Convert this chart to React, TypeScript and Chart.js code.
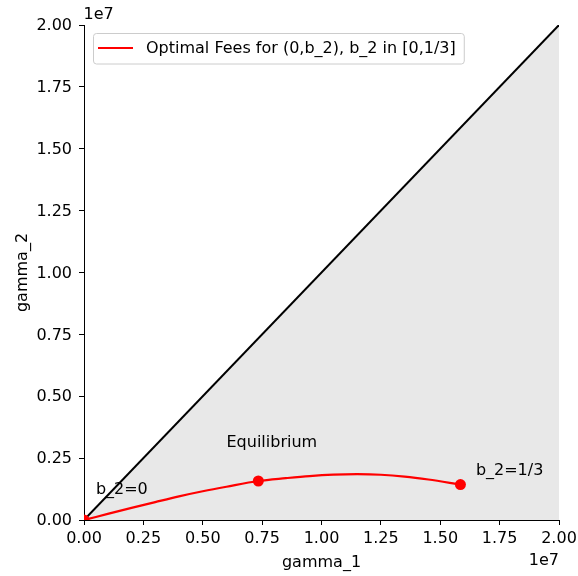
import React, { useEffect, useRef } from "react";
import { Chart, registerables } from "chart.js";

Chart.register(...registerables);

// ---- data ----
const axisMin = 0;
const axisMax = 2e7;
const tickStep = 2.5e6;
const tickScale = 1e7; // offset text "1e7"

const diagonalX = [0, 2e7];
const diagonalY = [0, 2e7];

const curveX = [0, 1.0e6, 2.0e6, 3.0e6, 4.0e6, 5.0e6, 6.0e6, 7.34e6, 8.5e6, 9.5e6, 10.5e6, 11.5e6, 12.5e6, 13.5e6, 14.5e6, 15.85e6];
const curveY = [0, 0.245e6, 0.49e6, 0.725e6, 0.955e6, 1.16e6, 1.345e6, 1.576e6, 1.69e6, 1.775e6, 1.83e6, 1.85e6, 1.829e6, 1.755e6, 1.635e6, 1.43e6];

const markerX = [0, 7.34e6, 15.85e6];
const markerY = [0, 1.576e6, 1.43e6];

const annotationLabels = ["b_2=0", "Equilibrium", "b_2=1/3"];
const annotationX = [0.5e6, 6.0e6, 1.65e7];
const annotationY = [1.05e6, 2.95e6, 1.8e6];

const legendLabel = "Optimal Fees for (0,b_2), b_2 in [0,1/3]";
const xTitle = "gamma_1";
const yTitle = "gamma_2";
const offsetText = "1e7";

const FONT = '"DejaVu Sans", "Liberation Sans", sans-serif';

const overlayPlugin = {
  id: "overlay",
  afterDraw(chart: any) {
    const { ctx, chartArea } = chart;
    const xs = chart.scales.x;
    const ys = chart.scales.y;
    ctx.save();
    ctx.font = `16px ${FONT}`;
    ctx.fillStyle = "#000";

    // annotations
    ctx.textAlign = "left";
    ctx.textBaseline = "alphabetic";
    annotationLabels.forEach((t, i) => {
      ctx.fillText(t, xs.getPixelForValue(annotationX[i]), ys.getPixelForValue(annotationY[i]));
    });

    // legend
    const lx = chartArea.left + 9;
    const ly = chartArea.top + 8;
    const tw = ctx.measureText(legendLabel).width;
    const w = 53 + tw + 8;
    const h = 30.5;
    ctx.beginPath();
    if ((ctx as any).roundRect) (ctx as any).roundRect(lx + 0.5, ly + 0.5, w, h, 3);
    else ctx.rect(lx + 0.5, ly + 0.5, w, h);
    ctx.fillStyle = "rgba(255,255,255,0.8)";
    ctx.fill();
    ctx.strokeStyle = "#cccccc";
    ctx.lineWidth = 1;
    ctx.stroke();
    ctx.beginPath();
    ctx.moveTo(lx + 5, ly + 15);
    ctx.lineTo(lx + 40, ly + 15);
    ctx.strokeStyle = "#ff0000";
    ctx.lineWidth = 2.2;
    ctx.stroke();
    ctx.fillStyle = "#000";
    ctx.textBaseline = "middle";
    ctx.fillText(legendLabel, lx + 53, ly + 15.5);

    // offset texts
    ctx.textBaseline = "alphabetic";
    ctx.textAlign = "left";
    ctx.fillText(offsetText, chartArea.left - 0.5, chartArea.top - 6.5);
    ctx.textAlign = "right";
    ctx.fillText(offsetText, chartArea.right, 565);

    // axis titles
    ctx.textAlign = "center";
    ctx.fillText(xTitle, (chartArea.left + chartArea.right) / 2, 567);
    ctx.save();
    ctx.translate(27, (chartArea.top + chartArea.bottom) / 2);
    ctx.rotate(-Math.PI / 2);
    ctx.fillText(yTitle, 0, 0);
    ctx.restore();

    ctx.restore();
  },
};

export default function App() {
  const canvasRef = useRef<HTMLCanvasElement | null>(null);

  useEffect(() => {
    document.body.style.margin = "0";
    const canvas = canvasRef.current;
    if (!canvas) return;

    const fmt = (v: any) => (Number(v) / tickScale).toFixed(2);

    const commonTicks = {
      color: "#000",
      font: { family: FONT, size: 16 },
      stepSize: tickStep,
      autoSkip: false,
      maxRotation: 0,
      minRotation: 0,
      callback: fmt,
    };
    const commonGrid = {
      drawOnChartArea: false,
      drawTicks: true,
      tickLength: 5,
      color: "#000",
      tickWidth: 1,
    };

    const chart = new Chart(canvas, {
      type: "scatter",
      data: {
        datasets: [
          {
            label: "markers",
            data: markerX.map((x, i) => ({ x, y: markerY[i] })),
            showLine: false,
            pointRadius: 5.5,
            pointHoverRadius: 5.5,
            pointBackgroundColor: "#ff0000",
            pointBorderColor: "#ff0000",
            pointBorderWidth: 0,
            clip: 0,
          } as any,
          {
            label: legendLabel,
            data: curveX.map((x, i) => ({ x, y: curveY[i] })),
            showLine: true,
            borderColor: "#ff0000",
            borderWidth: 2.2,
            pointRadius: 0,
            cubicInterpolationMode: "monotone",
            fill: false,
            clip: 0,
          } as any,
          {
            label: "diagonal",
            data: diagonalX.map((x, i) => ({ x, y: diagonalY[i] })),
            showLine: true,
            borderColor: "#000000",
            borderWidth: 2,
            pointRadius: 0,
            backgroundColor: "#e8e8e8",
            fill: "origin",
            clip: 0,
          } as any,
        ],
      },
      options: {
        responsive: false,
        devicePixelRatio: 1,
        animation: false,
        layout: { padding: { left: 0, right: 19, top: 25, bottom: 0 } },
        plugins: {
          legend: { display: false },
          tooltip: { enabled: false },
        },
        scales: {
          x: {
            type: "linear",
            min: axisMin,
            max: axisMax,
            ticks: { ...commonTicks, padding: 4 },
            grid: commonGrid,
            border: { display: true, color: "#000", width: 1 },
            afterFit: (s: any) => {
              s.height = 56;
              s.paddingLeft = 0;
              s.paddingRight = 0;
              s.paddingTop = 0;
              s.paddingBottom = 0;
            },
          },
          y: {
            type: "linear",
            min: axisMin,
            max: axisMax,
            ticks: { ...commonTicks, padding: 7, labelOffset: 1 },
            grid: commonGrid,
            border: { display: true, color: "#000", width: 1 },
            afterFit: (s: any) => {
              s.width = 84;
              s.paddingLeft = 0;
              s.paddingRight = 0;
              s.paddingTop = 0;
              s.paddingBottom = 0;
            },
          },
        },
      } as any,
      plugins: [overlayPlugin],
    });

    return () => chart.destroy();
  }, []);

  return (
    <canvas ref={canvasRef} width={578} height={576} style={{ display: "block" }} />
  );
}
